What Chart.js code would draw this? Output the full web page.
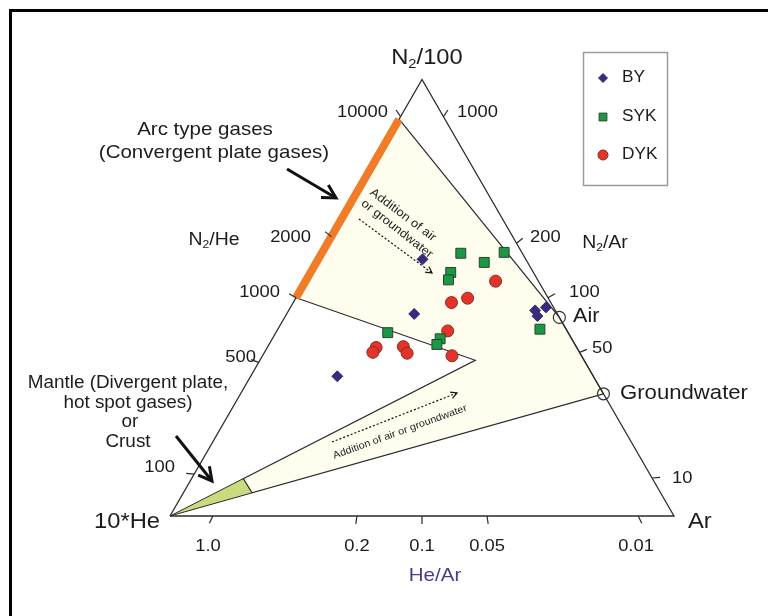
<!DOCTYPE html>
<html>
<head>
<meta charset="utf-8">
<script src="https://cdn.jsdelivr.net/npm/chart.js@4.4.1/dist/chart.umd.min.js"></script>
<style>
  html, body { margin: 0; padding: 0; background: #fff; }
</style>
</head>
<body>
<canvas id="ternary" width="768" height="616"></canvas>
<script>
// sample compositions, percent of [N2/100, 10*He, Ar]
const byData = [[58.8, 20.5, 20.7], [46.3, 28.4, 25.3], [32.0, 50.8, 17.2],
                [47.1, 4.0, 48.9], [45.8, 4.2, 50.0], [47.8, 1.5, 50.7]];
const sykData = [[60.2, 12.2, 27.6], [60.4, 3.5, 36.1], [58.1, 8.6, 33.3],
                 [55.8, 16.4, 27.8], [54.1, 17.7, 28.2], [42.0, 35.8, 22.2],
                 [40.6, 26.1, 33.3], [39.3, 27.4, 33.3], [42.8, 5.2, 52.0]];
const dykData = [[53.8, 8.5, 37.7], [48.9, 19.7, 31.4], [49.9, 16.0, 34.1],
                 [42.4, 23.7, 33.9], [38.6, 39.8, 21.6], [37.5, 41.0, 21.5],
                 [38.8, 34.3, 26.9], [37.3, 34.3, 28.4], [36.7, 25.7, 37.6]];
const seriesLabels = ['BY', 'SYK', 'DYK'];

// end members
const airPoint = [45.5, 0, 54.5];
const groundwaterPoint = [28, 0, 72];
const arcTop = [90.9, 9.1, 0];      // N2/He = 10000
const arcBottom = [50, 50, 0];      // N2/He = 1000

// ratio ticks along the sides, with the share where the picture puts them
const n2HeTicks = ['10000', '2000', '1000', '500', '100'];
const n2HeTickShare = [91.5, 64, 50, 35.2, 9.6];     // N2 share, N2-He side
const n2ArTicks = ['1000', '200', '100', '50', '10'];
const n2ArTickShare = [91.5, 62.5, 50, 37.5, 8.7];   // N2 share, N2-Ar side
const heArTicks = ['1.0', '0.2', '0.1', '0.05', '0.01'];
const heArTickShare = [91.5, 62.9, 50, 37.1, 7.1];   // He share, He-Ar side

const N2 = [100, 0, 0], HE = [0, 100, 0], AR = [0, 0, 100];
const SQ3 = Math.sqrt(3) / 2;
const FONT = '"Liberation Sans", Arial, sans-serif';
const STRETCH = 1.08;

function toXY(c) {
    const s = c[0] + c[1] + c[2];
    const n = c[0] / s, a = c[2] / s;
    return { x: a + n / 2, y: n * SQ3 };
}
function mix(a, b, t) {
    return a.map((v, i) => v + (b[i] - v) * t);
}

const wedgeHigh = mix(HE, airPoint, 0.188);
const wedgeLow = mix(HE, groundwaterPoint, 0.189);
const notch = mix(HE, airPoint, 0.784);

function lineSet(points, opts) {
    return Object.assign({
        type: 'line',
        data: points.map(toXY),
        borderColor: '#2a2a2a',
        borderWidth: 1.2,
        pointRadius: 0,
        fill: false,
        tension: 0
    }, opts);
}

// --- text helpers ---
function splitSub(text) {
    return text.split(/_(\d)/).map((t, i) => ({ t: t, sub: i % 2 === 1 }));
}
function drawLabel(ctx, text, x, y, size, align, color) {
    const parts = splitSub(text);
    let w = 0;
    parts.forEach(p => {
        ctx.font = (p.sub ? size * 0.62 : size) + 'px ' + FONT;
        w += ctx.measureText(p.t).width;
    });
    w *= STRETCH;
    const left = align === 'center' ? x - w / 2 : align === 'right' ? x - w : x;
    ctx.save();
    ctx.fillStyle = color || '#1c1c1c';
    ctx.textBaseline = 'middle';
    ctx.textAlign = 'left';
    ctx.translate(left, y);
    ctx.scale(STRETCH, 1);
    let cx = 0;
    parts.forEach(p => {
        ctx.font = (p.sub ? size * 0.62 : size) + 'px ' + FONT;
        ctx.fillText(p.t, cx, p.sub ? size * 0.3 : 0);
        cx += ctx.measureText(p.t).width;
    });
    ctx.restore();
}
function drawRotated(ctx, text, x, y, deg, size) {
    ctx.save();
    ctx.translate(x, y);
    ctx.rotate(deg * Math.PI / 180);
    ctx.scale(STRETCH, 1);
    ctx.font = size + 'px ' + FONT;
    ctx.fillStyle = '#1c1c1c';
    ctx.textAlign = 'center';
    ctx.textBaseline = 'middle';
    ctx.fillText(text, 0, 0);
    ctx.restore();
}
function arrow(ctx, x1, y1, x2, y2, width, head, dashed) {
    ctx.save();
    ctx.strokeStyle = '#111';
    ctx.lineWidth = width;
    if (dashed) ctx.setLineDash([2, 2]);
    ctx.beginPath();
    ctx.moveTo(x1, y1);
    ctx.lineTo(x2, y2);
    ctx.stroke();
    ctx.setLineDash([]);
    const ang = Math.atan2(y2 - y1, x2 - x1);
    ctx.beginPath();
    ctx.moveTo(x2 - head * Math.cos(ang - 0.5), y2 - head * Math.sin(ang - 0.5));
    ctx.lineTo(x2, y2);
    ctx.lineTo(x2 - head * Math.cos(ang + 0.5), y2 - head * Math.sin(ang + 0.5));
    ctx.stroke();
    ctx.restore();
}

const decor = {
    id: 'decor',
    afterDraw(chart) {
        const ctx = chart.ctx;
        const sx = chart.scales.x, sy = chart.scales.y;
        const P = c => { const p = toXY(c); return [sx.getPixelForValue(p.x), sy.getPixelForValue(p.y)]; };

        // side ticks, pointing away from the opposite corner
        function ticks(shares, makeComp, opposite) {
            const o = P(opposite);
            ctx.save();
            ctx.strokeStyle = '#2a2a2a';
            ctx.lineWidth = 1.2;
            shares.forEach(s => {
                const e = P(makeComp(s));
                const dx = e[0] - o[0], dy = e[1] - o[1];
                const len = Math.hypot(dx, dy);
                ctx.beginPath();
                ctx.moveTo(e[0], e[1]);
                ctx.lineTo(e[0] + dx / len * 8, e[1] + dy / len * 8);
                ctx.stroke();
            });
            ctx.restore();
        }
        ticks(n2HeTickShare, s => [s, 100 - s, 0], AR);
        ticks(n2ArTickShare, s => [s, 0, 100 - s], HE);
        ticks(heArTickShare, s => [0, s, 100 - s], N2);

        // tick labels
        const leftPos = [[388, 112], [311, 237], [280, 292], [256, 357], [175, 467]];
        n2HeTicks.forEach((t, i) => drawLabel(ctx, t, leftPos[i][0], leftPos[i][1], 17, 'right'));
        const rightPos = [[457, 112], [530, 237], [569, 292], [592, 348], [672, 478]];
        n2ArTicks.forEach((t, i) => drawLabel(ctx, t, rightPos[i][0], rightPos[i][1], 17, 'left'));
        const bottomX = [208, 357, 422, 487, 636];
        heArTicks.forEach((t, i) => drawLabel(ctx, t, bottomX[i], 546, 17, 'center'));

        // axis / corner titles
        drawLabel(ctx, 'N_2/100', 427, 58, 22, 'center');
        drawLabel(ctx, '10*He', 160, 522, 22, 'right');
        drawLabel(ctx, 'Ar', 688, 522, 22, 'left');
        drawLabel(ctx, 'N_2/He', 214, 240, 18, 'center');
        drawLabel(ctx, 'N_2/Ar', 605, 243, 18, 'center');
        drawLabel(ctx, 'He/Ar', 435, 576, 19, 'center', '#4b3b8f');
        drawLabel(ctx, 'Air', 573, 316, 20, 'left');
        drawLabel(ctx, 'Groundwater', 620, 393, 20.5, 'left');

        // end member circles
        [airPoint, groundwaterPoint].forEach(c => {
            const p = P(c);
            ctx.save();
            ctx.strokeStyle = '#333';
            ctx.lineWidth = 1.2;
            ctx.beginPath();
            ctx.arc(p[0], p[1], 6, 0, Math.PI * 2);
            ctx.stroke();
            ctx.restore();
        });

        // annotations
        drawLabel(ctx, 'Arc type gases', 205, 130, 19, 'center');
        drawLabel(ctx, '(Convergent plate gases)', 214, 153, 19, 'center');
        arrow(ctx, 287, 169, 336, 198, 3, 15, false);
        drawLabel(ctx, 'Mantle (Divergent plate,', 128, 383, 17.5, 'center');
        drawLabel(ctx, 'hot spot gases)', 128, 403, 17.5, 'center');
        drawLabel(ctx, 'or', 130, 422, 17.5, 'center');
        drawLabel(ctx, 'Crust', 128, 442, 17.5, 'center');
        arrow(ctx, 176, 436, 212, 481, 3, 15, false);

        drawRotated(ctx, 'Addition of air', 403, 215, 37, 12);
        drawRotated(ctx, 'or groundwater', 397, 229, 38, 12);
        arrow(ctx, 359, 219, 432, 273, 1.2, 7, true);
        drawRotated(ctx, 'Addition of air or groundwater', 400, 432, -20, 10);
        arrow(ctx, 332, 442, 457, 393, 1.2, 7, true);

        // legend box
        ctx.save();
        ctx.strokeStyle = '#9a9a9a';
        ctx.lineWidth = 1.5;
        ctx.strokeRect(583.5, 52.5, 84, 133);
        const legendY = [78, 117, 155];
        const legendMarks = [
            { pointStyle: 'rectRot', radius: 4.5, fill: '#3a2a7c', stroke: '#3a2a7c' },
            { pointStyle: 'rect', radius: 5.5, fill: '#1e9646', stroke: '#1d4a26' },
            { pointStyle: 'circle', radius: 5, fill: '#e3342b', stroke: '#8b2a20' }
        ];
        seriesLabels.forEach((name, i) => {
            const m = legendMarks[i];
            ctx.fillStyle = m.fill;
            ctx.strokeStyle = m.stroke;
            ctx.lineWidth = 1;
            Chart.helpers.drawPoint(ctx, { pointStyle: m.pointStyle, radius: m.radius, rotation: 0, borderWidth: 1 }, 603, legendY[i]);
            drawLabel(ctx, name, 622, legendY[i], 16, 'left');
        });
        ctx.restore();

        // frame
        ctx.fillStyle = '#000';
        ctx.fillRect(9, 9, 759, 3);
        ctx.fillRect(9, 9, 3, 607);
    }
};

new Chart(document.getElementById('ternary'), {
    type: 'scatter',
    data: {
        datasets: [
            {
                label: seriesLabels[0],
                data: byData.map(toXY),
                pointStyle: 'rectRot',
                pointRadius: 5.5,
                backgroundColor: '#3a2a7c',
                borderColor: '#3a2a7c',
                borderWidth: 1,
                order: 0
            },
            {
                label: seriesLabels[1],
                data: sykData.map(toXY),
                pointStyle: 'rect',
                pointRadius: 7,
                backgroundColor: '#1e9646',
                borderColor: '#1d4a26',
                borderWidth: 1,
                order: 1
            },
            {
                label: seriesLabels[2],
                data: dykData.map(toXY),
                pointStyle: 'circle',
                pointRadius: 6,
                backgroundColor: '#e3342b',
                borderColor: '#8b2a20',
                borderWidth: 1,
                order: 2
            },
            lineSet([arcTop, arcBottom], { borderColor: '#f07c28', borderWidth: 8, borderCapStyle: 'butt', order: 5 }),
            lineSet([HE, AR, N2, HE], { borderWidth: 1.3, order: 6 }),
            lineSet([HE, wedgeHigh, wedgeLow, HE], { fill: 'shape', backgroundColor: '#c9db7e', borderWidth: 1, order: 7 }),
            lineSet([arcTop, airPoint, groundwaterPoint, wedgeLow, wedgeHigh, notch, arcBottom, arcTop],
                    { fill: 'shape', backgroundColor: '#fefdee', order: 8 })
        ]
    },
    options: {
        responsive: false,
        animation: false,
        events: [],
        layout: { padding: 0, autoPadding: false },
        scales: {
            x: { type: 'linear', min: -170 / 504, max: 598 / 504, display: false },
            y: { type: 'linear', min: -100 / 504, max: 516 / 504, display: false }
        },
        plugins: {
            legend: { display: false },
            tooltip: { enabled: false }
        }
    },
    plugins: [decor]
});
</script>
</body>
</html>
